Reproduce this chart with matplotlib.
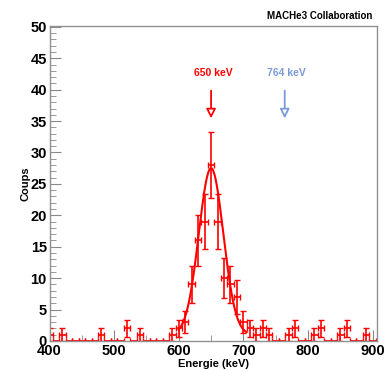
import numpy as np
import matplotlib
matplotlib.use("Agg")
from matplotlib import pyplot as plt

plt.rcParams['font.family'] = ['Liberation Sans', 'DejaVu Sans']

# Histogram bins (keV) and counts
energie = np.arange(400, 901, 10)
coups = [1, 0, 1, 0, 0, 0, 0, 0, 1, 0,
         0, 0, 2, 0, 1, 0, 0, 0, 0, 1,
         2, 3, 9, 16, 19, 28, 19, 10, 9, 7,
         3, 2, 1, 2, 1, 0, 0, 1, 2, 0,
         0, 1, 2, 0, 0, 1, 2, 0, 0, 1,
         0]

# Gaussian fit (+ flat background)
fit_amp, fit_mean, fit_sigma, fit_bkg = 26.5, 650.0, 19.0, 1.0
fit_range = (600, 705)

# expected lines
raies = [650, 764]
raies_labels = ["650 keV", "764 keV"]
raies_colors = ["#ff0000", "#7b9ad9"]

coups = np.array(coups, dtype=float)
err = np.sqrt(coups)

fig = plt.figure(figsize=(3.9, 3.71), dpi=100)
ax = fig.add_axes([0.127, 0.081, 0.840, 0.850])

ax.errorbar(energie, coups, xerr=5, yerr=err, fmt='none', ecolor='#ff0000',
            elinewidth=1.2, capsize=2, capthick=1.0)

xf = np.linspace(fit_range[0], fit_range[1], 300)
yf = fit_bkg + fit_amp * np.exp(-(xf - fit_mean)**2 / (2 * fit_sigma**2))
ax.plot(xf, yf, color='#ff0000', lw=1.5)

for e, lab, c in zip(raies, raies_labels, raies_colors):
    ax.annotate("", xy=(e, 35), xytext=(e, 40.3),
                arrowprops=dict(arrowstyle='-|>,head_width=0.28,head_length=0.55',
                                fc='white', ec=c, lw=1.3))
    ax.text(e + 3, 42.7, lab, color=c, ha='center', va='center',
            fontsize=7.5, fontweight='bold')

ax.set_xlim(400, 907)
ax.set_ylim(0, 50.2)
ax.set_xticks(np.arange(400, 901, 100))
ax.set_xticks(np.arange(400, 901, 50), minor=True)
ax.set_yticks(np.arange(0, 51, 5))
ax.set_yticks(np.arange(0, 51, 1), minor=True)

ax.tick_params(which='both', direction='in', color='#888888', top=False, right=False)
ax.tick_params(which='major', length=8, labelsize=10.5, pad=2)
ax.tick_params(which='minor', length=4)
for lab in ax.get_xticklabels() + ax.get_yticklabels():
    lab.set_fontweight('bold')
for s in ax.spines.values():
    s.set_color('#909090')
    s.set_linewidth(1.0)

ax.set_xlabel("Energie (keV)", fontsize=8, fontweight='bold', labelpad=1)
ax.set_ylabel("Coups", fontsize=8, fontweight='bold', labelpad=0)

fig.text(0.955, 0.957, "MACHe3 Collaboration", ha='right', va='center',
         fontsize=7, fontweight='bold')

fig.savefig("out.png", dpi=100)
